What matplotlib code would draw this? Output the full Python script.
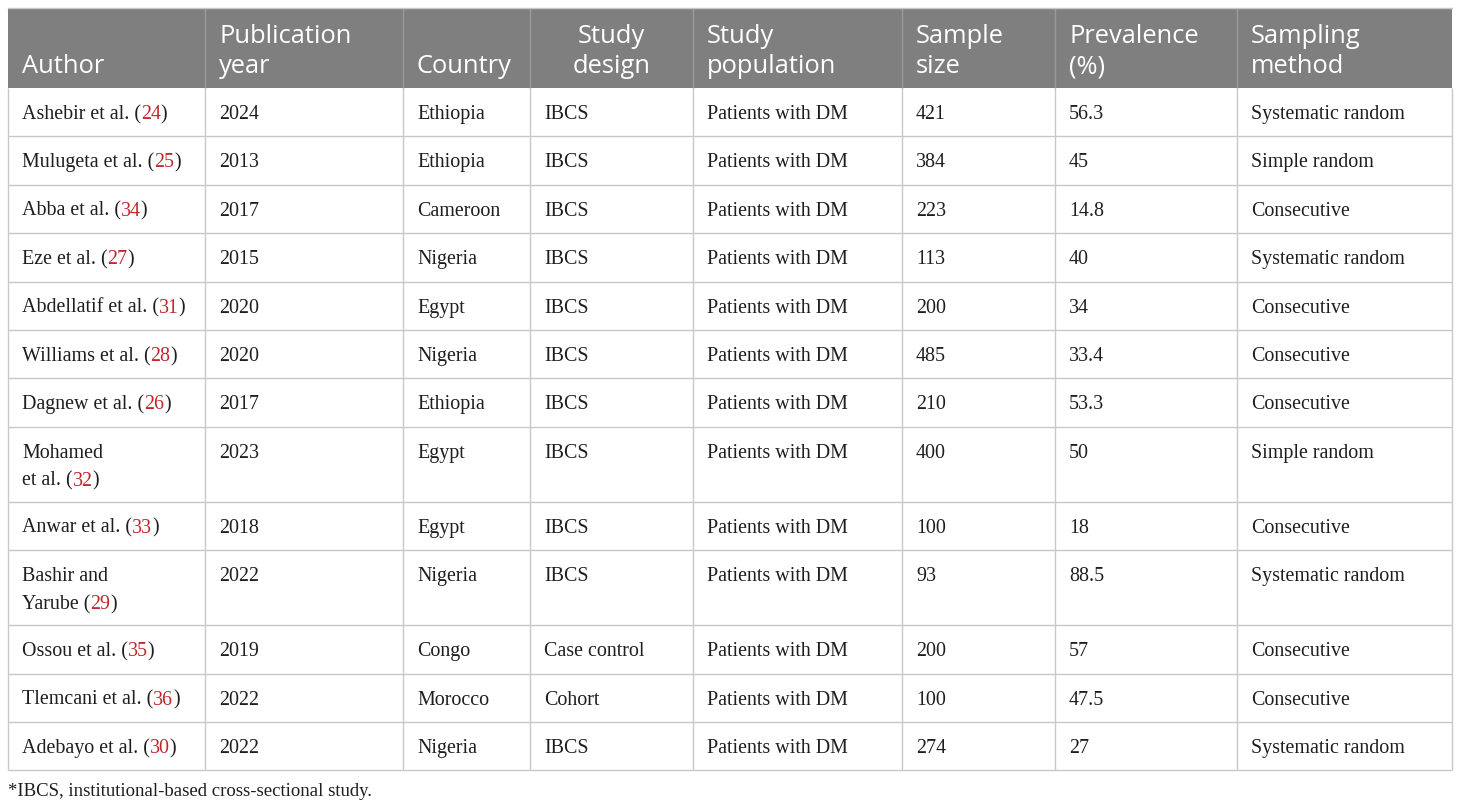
import matplotlib
matplotlib.use("Agg")
import matplotlib.pyplot as plt
from matplotlib.patches import Rectangle
from matplotlib.textpath import TextToPath
from matplotlib.font_manager import FontProperties

# ---------------- data ----------------
headers = ["Author", "Publication\nyear", "Country", "Study\ndesign",
           "Study\npopulation", "Sample\nsize", "Prevalence\n(%)", "Sampling\nmethod"]
authors = ["Ashebir et al.", "Mulugeta et al.", "Abba et al.", "Eze et al.",
           "Abdellatif et al.", "Williams et al.", "Dagnew et al.", "Mohamed\net al.",
           "Anwar et al.", "Bashir and\nYarube", "Ossou et al.", "Tlemcani et al.",
           "Adebayo et al."]
refs = ["24", "25", "34", "27", "31", "28", "26", "32", "33", "29", "35", "36", "30"]
years = ["2024", "2013", "2017", "2015", "2020", "2020", "2017", "2023", "2018",
         "2022", "2019", "2022", "2022"]
countries = ["Ethiopia", "Ethiopia", "Cameroon", "Nigeria", "Egypt", "Nigeria",
             "Ethiopia", "Egypt", "Egypt", "Nigeria", "Congo", "Morocco", "Nigeria"]
designs = ["IBCS"] * 10 + ["Case control", "Cohort", "IBCS"]
populations = ["Patients with DM"] * 13
sample_sizes = ["421", "384", "223", "113", "200", "485", "210", "400", "100",
                "93", "200", "100", "274"]
prevalence = ["56.3", "45", "14.8", "40", "34", "33.4", "53.3", "50", "18",
              "88.5", "57", "47.5", "27"]
methods = ["Systematic random", "Simple random", "Consecutive", "Systematic random",
           "Consecutive", "Consecutive", "Consecutive", "Simple random", "Consecutive",
           "Systematic random", "Consecutive", "Consecutive", "Systematic random"]
footnote = "*IBCS, institutional-based cross-sectional study."

# ---------------- layout ----------------
W, H = 1460, 809
DPI = 100
col_widths = [197, 198, 127, 163, 209, 153, 182, 215]
left = 8
top = 8
header_h = 80
row_h1 = 48.4
row_h2 = 75
line_step = 28
pad_x = 14

HEADER_BG = "#7f7f7f"
GRID = "#c8c8c8"
RED = "#c0272d"
TEXT = "#1e1e1e"
serif = ["Liberation Serif", "DejaVu Serif"]
sans = ["Open Sans", "DejaVu Sans"]
body_fs = 14.4
head_fs = 18.4

fig = plt.figure(figsize=(W / DPI, H / DPI), dpi=DPI)
ax = fig.add_axes([0, 0, 1, 1])
ax.set_xlim(0, W)
ax.set_ylim(H, 0)
ax.axis("off")

t2p = TextToPath()
body_prop = FontProperties(family=serif, size=body_fs)


def adv_width_px(s):
    w, _, _ = t2p.get_text_width_height_descent(s, body_prop, ismath=False)
    return w * DPI / 72.0


col_x = [left]
for w in col_widths:
    col_x.append(col_x[-1] + w)
right = col_x[-1]

# header
ax.add_patch(Rectangle((left, top), right - left, header_h, facecolor=HEADER_BG,
                       edgecolor="none", zorder=1))
head_bottom = top + header_h
for ci, h in enumerate(headers):
    lines = h.split("\n")
    n = len(lines)
    for li, ln in enumerate(lines):
        yb = head_bottom - 15 - (n - 1 - li) * 30
        if ci == 3:
            ax.text((col_x[ci] + col_x[ci + 1]) / 2, yb, ln, ha="center", va="baseline",
                    color="white", fontsize=head_fs, family=sans, zorder=3)
        else:
            ax.text(col_x[ci] + pad_x, yb, ln, ha="left", va="baseline",
                    color="white", fontsize=head_fs, family=sans, zorder=3)


def rich(x, y, segs):
    prefix = ""
    for s, c in segs:
        xx = x + adv_width_px(prefix) if prefix else x
        ax.text(xx, y, s, ha="left", va="baseline", color=c, fontsize=body_fs,
                family=serif, zorder=3)
        prefix += s


# body
y = head_bottom
row_bounds = [y]
for r in range(len(authors)):
    alines = authors[r].split("\n")
    n = len(alines)
    rh = row_h1 if n == 1 else row_h2
    base = y + 31
    for li, ln in enumerate(alines):
        yb = base + li * line_step
        if li == n - 1:
            rich(col_x[0] + pad_x, yb, [(ln + " (", TEXT), (refs[r], RED), (")", TEXT)])
        else:
            rich(col_x[0] + pad_x, yb, [(ln, TEXT)])
    vals = [years[r], countries[r], designs[r], populations[r], sample_sizes[r],
            prevalence[r], methods[r]]
    for ci, v in enumerate(vals, start=1):
        ax.text(col_x[ci] + pad_x, base, v, ha="left", va="baseline", color=TEXT,
                fontsize=body_fs, family=serif, zorder=3)
    y += rh
    row_bounds.append(y)

bottom = row_bounds[-1]
# grid lines
for yy in row_bounds[1:]:
    ax.plot([left, right], [yy, yy], color=GRID, lw=1.0, zorder=2,
            solid_capstyle="butt")
for xx in col_x:
    ax.plot([xx, xx], [head_bottom, bottom], color=GRID, lw=1.0, zorder=2,
            solid_capstyle="butt")
for xx in col_x[1:-1]:
    ax.plot([xx, xx], [top, head_bottom], color="#9a9a9a", lw=1.0, zorder=2,
            solid_capstyle="butt")
ax.plot([left, right], [top, top], color=GRID, lw=1.0, zorder=2)

ax.text(left, bottom + 26, footnote, ha="left", va="baseline", color=TEXT,
        fontsize=13.5, family=serif)

fig.savefig("out.png", dpi=DPI)
